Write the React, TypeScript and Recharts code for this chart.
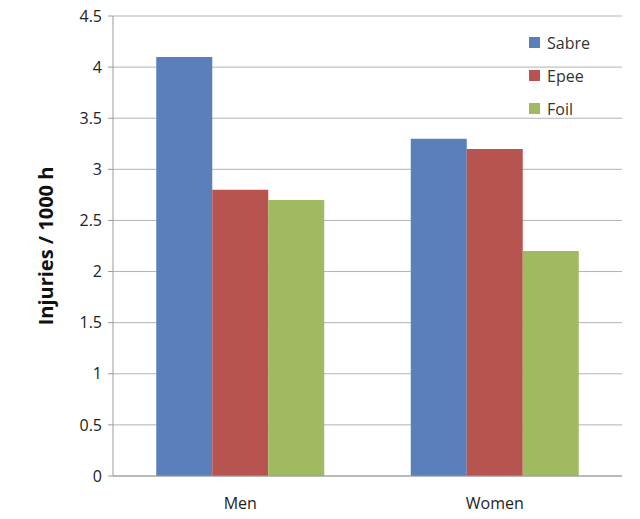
import { Bar, BarChart, CartesianGrid, XAxis, YAxis } from 'recharts'

const groups = ['Men', 'Women']
const sabre = [4.1, 3.3]
const epee = [2.8, 3.2]
const foil = [2.7, 2.2]
const yTicks = [0, 0.5, 1, 1.5, 2, 2.5, 3, 3.5, 4, 4.5]

const data = groups.map((g, i) => ({ group: g, Sabre: sabre[i], Epee: epee[i], Foil: foil[i] }))

const series = [
  { key: 'Sabre', color: '#5a7fbb' },
  { key: 'Epee', color: '#b85450' },
  { key: 'Foil', color: '#9fba60' },
]

const font = '"Open Sans", "Liberation Sans", sans-serif'

// legend sits inside the plot, top right, like the original
function LegendBox() {
  return (
    <div
      style={{
        position: 'absolute',
        left: 529,
        top: 26,
        fontFamily: font,
        fontSize: 16,
        color: '#333',
      }}
    >
      {series.map((s) => (
        <div key={s.key} style={{ display: 'flex', alignItems: 'center', height: 33 }}>
          <span style={{ width: 11, height: 11, background: s.color, marginRight: 7 }} />
          {s.key}
        </div>
      ))}
    </div>
  )
}

export default function App() {
  return (
    <div style={{ position: 'absolute', left: 0, top: 0, width: 640, height: 519, background: '#fff' }}>
      <BarChart
        width={640}
        height={519}
        data={data}
        margin={{ top: 16, right: 18, bottom: 0, left: 0 }}
        barCategoryGap="17%"
        barGap={0}
      >
        <CartesianGrid vertical={false} stroke="#b3b3b3" />
        <XAxis
          dataKey="group"
          height={43}
          tickLine={false}
          axisLine={{ stroke: '#9a9a9a' }}
          tick={{ fill: '#222', fontSize: 16, fontFamily: font }}
          tickMargin={16}
        />
        <YAxis
          width={113}
          domain={[0, 4.5]}
          ticks={yTicks}
          interval={0}
          tickSize={5}
          tickLine={{ stroke: '#9a9a9a' }}
          axisLine={{ stroke: '#9a9a9a' }}
          tick={{ fill: '#222', fontSize: 16, fontFamily: font }}
          tickMargin={6}
          label={{
            value: 'Injuries / 1000 h',
            angle: -90,
            position: 'insideLeft',
            offset: 46,
            style: { textAnchor: 'middle', fontSize: 20, fontWeight: 'bold', fill: '#111', fontFamily: font },
          }}
        />
        {series.map((s) => (
          <Bar key={s.key} dataKey={s.key} fill={s.color} isAnimationActive={false} />
        ))}
      </BarChart>
      <LegendBox />
    </div>
  )
}
